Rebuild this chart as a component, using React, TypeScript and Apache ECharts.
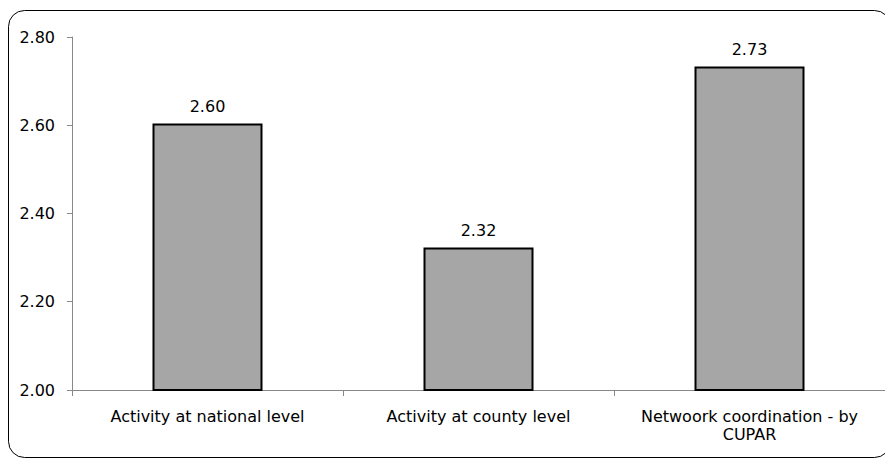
import React, { useEffect, useRef } from "react";
import * as echarts from "echarts";

const categories = [
  "Activity at national level",
  "Activity at county level",
  "Netwoork coordination - by\nCUPAR",
];
const values = [2.604, 2.323, 2.733];
const yMin = 2.0;
const yMax = 2.8;
const yInterval = 0.2;

export default function App() {
  const ref = useRef<HTMLDivElement>(null);
  useEffect(() => {
    document.body.style.margin = "0";
    if (!ref.current) return;
    const chart = echarts.init(ref.current, null, { renderer: "svg" });
    const font = "DejaVu Sans";
    chart.setOption({
      animation: false,
      backgroundColor: "#ffffff",
      graphic: [
        {
          type: "rect",
          shape: { x: 8.5, y: 10.5, width: 882, height: 447, r: 16 },
          style: { fill: "none", stroke: "#000000", lineWidth: 1 },
          z: 100,
        },
      ],
      grid: { left: 72, top: 37, width: 820, height: 353 },
      xAxis: {
        type: "category",
        data: categories,
        axisLine: { lineStyle: { color: "#888888", width: 1 } },
        axisTick: { show: true, length: 6, lineStyle: { color: "#888888" } },
        axisLabel: {
          color: "#000000",
          fontFamily: font,
          fontSize: 16,
          margin: 17,
          lineHeight: 18,
          interval: 0,
        },
      },
      yAxis: {
        type: "value",
        min: yMin,
        max: yMax,
        interval: yInterval,
        splitLine: { show: false },
        axisLine: { show: true, lineStyle: { color: "#888888", width: 1 } },
        axisTick: { show: true, length: 5, lineStyle: { color: "#888888" } },
        axisLabel: {
          color: "#000000",
          fontFamily: font,
          fontSize: 16,
          margin: 17,
          formatter: (v: number) => v.toFixed(2),
        },
      },
      series: [
        {
          type: "bar",
          data: values,
          barWidth: 110,
          itemStyle: { color: "#a6a6a6", borderColor: "#000000", borderWidth: 2 },
          label: {
            show: true,
            position: "top",
            distance: 9,
            color: "#000000",
            fontFamily: font,
            fontSize: 16,
            formatter: (p: any) => Number(p.value).toFixed(2),
          },
        },
      ],
    });
    return () => chart.dispose();
  }, []);
  return <div ref={ref} style={{ width: 885, height: 460 }} />;
}
